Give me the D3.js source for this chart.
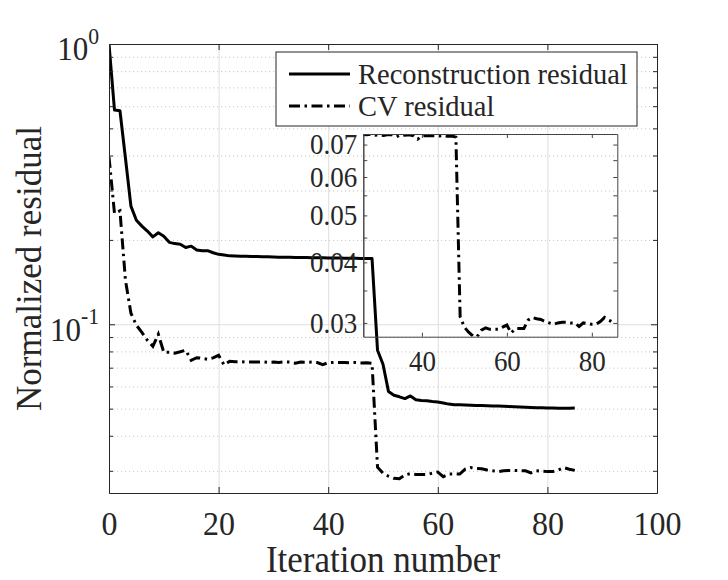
<!DOCTYPE html>
<html>
<head>
<meta charset="utf-8">
<script src="https://cdn.jsdelivr.net/npm/d3@7/dist/d3.min.js"></script>
<style>
  body { margin: 0; background: #fff; }
  svg text { font-family: "Liberation Serif", "Times New Roman", serif; fill: #262626; }
</style>
</head>
<body>
<svg id="chart" width="728" height="580"></svg>
<script>
// data (one value per iteration, starting at 0)
var reconResidual = [1.0, 0.581, 0.578, 0.392, 0.264, 0.235, 0.224, 0.215, 0.205, 0.212,
  0.206, 0.196, 0.194, 0.193, 0.188, 0.190, 0.184, 0.183, 0.183, 0.180,
  0.1776, 0.1765, 0.1754, 0.1752, 0.1750, 0.1748, 0.1746, 0.1744, 0.1742, 0.1740,
  0.1738, 0.1736, 0.1735, 0.1733, 0.1732, 0.1730, 0.1729, 0.1728, 0.1727, 0.1726,
  0.1724, 0.1723, 0.1722, 0.1721, 0.1720, 0.1719, 0.1718, 0.1717, 0.1716, 0.0808,
  0.0720, 0.0576, 0.0558, 0.0551, 0.0543, 0.0555, 0.0538, 0.0535, 0.0533, 0.0530,
  0.0528, 0.0524, 0.0519, 0.0516, 0.0516, 0.0515, 0.0514, 0.0513, 0.0513, 0.0512,
  0.0511, 0.0511, 0.0510, 0.0509, 0.0508, 0.0507, 0.0506, 0.0505, 0.0504, 0.0504,
  0.0503, 0.0503, 0.0502, 0.0502, 0.0502, 0.0503];

var cvResidual = [0.395, 0.249, 0.254, 0.1437, 0.1095, 0.0992, 0.0936, 0.0877, 0.0834, 0.0921,
  0.0794, 0.0794, 0.0789, 0.0798, 0.0808, 0.0744, 0.0760, 0.0756, 0.0750, 0.0759,
  0.0775, 0.0716, 0.0738, 0.0735, 0.0736, 0.0733, 0.0734, 0.0733, 0.0735, 0.0732,
  0.0733, 0.0731, 0.0734, 0.0733, 0.0726, 0.0733, 0.0732, 0.0733, 0.0730, 0.0718,
  0.0729, 0.0731, 0.0730, 0.0730, 0.0729, 0.0731, 0.0728, 0.0729, 0.0725, 0.0309,
  0.0294, 0.0287, 0.0282, 0.0281, 0.0290, 0.0293, 0.0291, 0.0291, 0.0291, 0.0294,
  0.0297, 0.0286, 0.0292, 0.0292, 0.0292, 0.0304, 0.0308, 0.0306, 0.0305, 0.0302,
  0.0300, 0.0298, 0.0300, 0.0301, 0.0301, 0.0300, 0.0300, 0.0295, 0.0300, 0.0299,
  0.0298, 0.0298, 0.0302, 0.0308, 0.0304, 0.0301];

var seriesNames = ["Reconstruction residual", "CV residual"];

var xDomain = [0, 100];
var yDomain = [0.025, 1];
var xTicks = [0, 20, 40, 60, 80, 100];
var xGridTicks = [20, 40, 60, 80];
var yMajorTicks = [1, 0.1];
var yMinorTicks = [0.03, 0.04, 0.05, 0.06, 0.07, 0.08, 0.09, 0.2, 0.3, 0.4, 0.5, 0.6, 0.7, 0.8, 0.9];

var insetXDomain = [26.2, 86];
var insetYDomain = [0.0281, 0.0736];
var insetXTicks = [40, 60, 80];
var insetYTicks = [0.03, 0.04, 0.05, 0.06, 0.07];
var insetYMinorTicks = [0.035, 0.045, 0.055, 0.065];

var svg = d3.select("#chart");
var axisColor = "#262626";
var dashCV = "11,4.5,2.5,4.5";
var textStretch = 1.07;   // the figure's glyphs are a bit taller than wide

// stretch text vertically about its own anchor point
function stretch(sel) {
  sel.each(function () {
    var t = d3.select(this);
    var tx = parseFloat(t.attr("x")) || 0, ty = parseFloat(t.attr("y")) || 0;
    t.attr("transform", "translate(" + tx + "," + ty + ") scale(1," + textStretch + ") translate(" + (-tx) + "," + (-ty) + ")");
  });
}

var m = { left: 109, top: 44, right: 657, bottom: 493 };
var x = d3.scaleLinear().domain(xDomain).range([m.left, m.right]);
var y = d3.scaleLog().domain(yDomain).range([m.bottom, m.top]);

// ---- grid ----
var grid = svg.append("g");
grid.append("g")
  .attr("transform", "translate(0," + m.bottom + ")")
  .call(d3.axisBottom(x).tickValues(xGridTicks).tickSize(-(m.bottom - m.top)).tickFormat(""))
  .call(function (g) { g.select(".domain").remove(); })
  .selectAll("line").attr("stroke", "#dedede").attr("stroke-width", 1);
grid.append("g")
  .attr("transform", "translate(" + m.left + ",0)")
  .call(d3.axisLeft(y).tickValues(yMinorTicks).tickSize(-(m.right - m.left)).tickFormat(""))
  .call(function (g) { g.select(".domain").remove(); })
  .selectAll("line").attr("stroke", "#c8c8c8").attr("stroke-width", 1).attr("stroke-dasharray", "1.2,2.8");
grid.append("g")
  .attr("transform", "translate(" + m.left + ",0)")
  .call(d3.axisLeft(y).tickValues([0.1]).tickSize(-(m.right - m.left)).tickFormat(""))
  .call(function (g) { g.select(".domain").remove(); })
  .selectAll("line").attr("stroke", "#dedede").attr("stroke-width", 1);

// ---- lines ----
svg.append("clipPath").attr("id", "clipMain").append("rect")
  .attr("x", m.left).attr("y", m.top).attr("width", m.right - m.left).attr("height", m.bottom - m.top);

var lineMain = d3.line().x(function (d, i) { return x(i); }).y(function (d) { return y(d); });
var plot = svg.append("g").attr("clip-path", "url(#clipMain)");
plot.append("path").datum(reconResidual)
  .attr("d", lineMain).attr("fill", "none").attr("stroke", "#000").attr("stroke-width", 3)
  .attr("stroke-linejoin", "round");
plot.append("path").datum(cvResidual)
  .attr("d", lineMain).attr("fill", "none").attr("stroke", "#000").attr("stroke-width", 3)
  .attr("stroke-dasharray", dashCV);

// ---- axes ----
function styleAxis(g) {
  g.select(".domain").attr("stroke", axisColor).attr("stroke-width", 1);
  g.selectAll(".tick line").attr("stroke", axisColor);
}
svg.append("g").attr("transform", "translate(0," + m.bottom + ")")
  .call(d3.axisBottom(x).tickValues(xTicks).tickSizeInner(-6).tickSizeOuter(0).tickPadding(18))
  .call(styleAxis)
  .selectAll("text").attr("font-size", 32).call(stretch);
svg.append("g").attr("transform", "translate(0," + m.top + ")")
  .call(d3.axisTop(x).tickValues(xTicks).tickSizeInner(-6).tickSizeOuter(0).tickFormat(""))
  .call(styleAxis);
svg.append("g").attr("transform", "translate(" + m.left + ",0)")
  .call(d3.axisLeft(y).tickValues(yMajorTicks).tickSizeInner(-6).tickSizeOuter(0).tickPadding(10))
  .call(styleAxis)
  .selectAll(".tick text").each(function (d) {
    var t = d3.select(this).attr("font-size", 31).attr("dy", "0.48em").text("10");
    t.append("tspan").attr("font-size", "0.7em").attr("dy", "-0.72em").text(Math.round(Math.log10(d)));
  }).call(stretch);
svg.append("g").attr("transform", "translate(" + m.left + ",0)")
  .call(d3.axisLeft(y).tickValues(yMinorTicks).tickSizeInner(-4).tickSizeOuter(0).tickFormat(""))
  .call(styleAxis);
svg.append("g").attr("transform", "translate(" + m.right + ",0)")
  .call(d3.axisRight(y).tickValues(yMajorTicks).tickSizeInner(-6).tickSizeOuter(0).tickFormat(""))
  .call(styleAxis);
svg.append("g").attr("transform", "translate(" + m.right + ",0)")
  .call(d3.axisRight(y).tickValues(yMinorTicks).tickSizeInner(-4).tickSizeOuter(0).tickFormat(""))
  .call(styleAxis);

// axis labels
svg.append("text").attr("x", (m.left + m.right) / 2).attr("y", 572)
  .attr("text-anchor", "middle").attr("font-size", 35).text("Iteration number").call(stretch);
svg.append("text").attr("transform", "translate(41," + ((m.top + m.bottom) / 2) + ") rotate(-90) scale(1.03,1.04)")
  .attr("text-anchor", "middle").attr("font-size", 34).text("Normalized residual");

// ---- inset ----
var im = { left: 363.3, top: 134, right: 617.3, bottom: 336.7 };
var ix = d3.scaleLinear().domain(insetXDomain).range([im.left, im.right]);
var iy = d3.scaleLog().domain(insetYDomain).range([im.bottom, im.top]);

svg.append("clipPath").attr("id", "clipInset").append("rect")
  .attr("x", im.left).attr("y", im.top).attr("width", im.right - im.left).attr("height", im.bottom - im.top);
var lineInset = d3.line().x(function (d, i) { return ix(i); }).y(function (d) { return iy(d); });
svg.append("g").attr("clip-path", "url(#clipInset)")
  .append("path").datum(cvResidual)
  .attr("d", lineInset).attr("fill", "none").attr("stroke", "#000").attr("stroke-width", 3)
  .attr("stroke-dasharray", dashCV);

var insetColor = "#444";
function styleInset(g) {
  g.select(".domain").attr("stroke", insetColor).attr("stroke-width", 1);
  g.selectAll(".tick line").attr("stroke", insetColor);
}
svg.append("g").attr("transform", "translate(0," + im.bottom + ")")
  .call(d3.axisBottom(ix).tickValues(insetXTicks).tickSizeInner(-4).tickSizeOuter(0).tickPadding(14))
  .call(styleInset)
  .selectAll("text").attr("font-size", 27).call(stretch);
svg.append("g").attr("transform", "translate(0," + im.top + ")")
  .call(d3.axisTop(ix).tickValues(insetXTicks).tickSizeInner(-4).tickSizeOuter(0).tickFormat(""))
  .call(styleInset);
svg.append("g").attr("transform", "translate(" + im.left + ",0)")
  .call(d3.axisLeft(iy).tickValues(insetYTicks).tickSizeInner(-4).tickSizeOuter(0).tickPadding(6)
    .tickFormat(d3.format(".2f")))
  .call(styleInset)
  .selectAll("text").attr("font-size", 27).call(stretch);
svg.append("g").attr("transform", "translate(" + im.left + ",0)")
  .call(d3.axisLeft(iy).tickValues(insetYMinorTicks).tickSizeInner(-4).tickSizeOuter(0).tickFormat(""))
  .call(styleInset);
svg.append("g").attr("transform", "translate(" + im.right + ",0)")
  .call(d3.axisRight(iy).tickValues(insetYTicks.concat(insetYMinorTicks)).tickSizeInner(-4).tickSizeOuter(0).tickFormat(""))
  .call(styleInset);

// ---- legend ----
var lg = svg.append("g");
lg.append("rect").attr("x", 276).attr("y", 52).attr("width", 361).attr("height", 74)
  .attr("fill", "#fff").attr("stroke", axisColor).attr("stroke-width", 1);
var rows = lg.selectAll(".row").data(seriesNames).enter().append("g")
  .attr("transform", function (d, i) { return "translate(289," + (74 + i * 32) + ")"; });
rows.append("line").attr("x1", 0).attr("x2", 61).attr("stroke", "#000").attr("stroke-width", 3)
  .attr("stroke-dasharray", function (d, i) { return i ? dashCV : null; });
rows.append("text").attr("x", 69).attr("dy", "0.33em").attr("font-size", 28.5)
  .text(function (d) { return d; }).call(stretch);
</script>
</body>
</html>
